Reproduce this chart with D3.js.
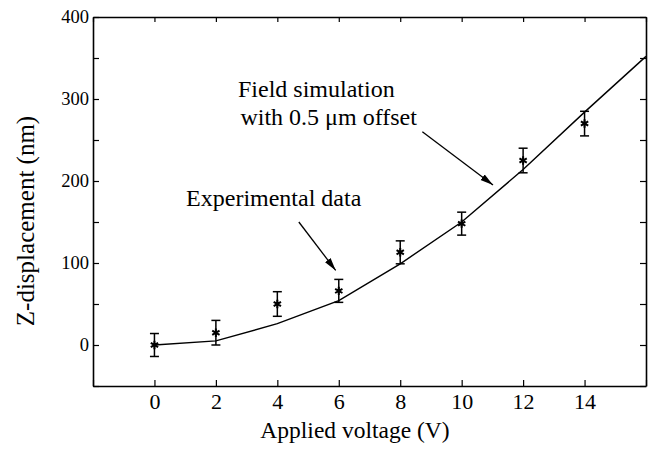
<!DOCTYPE html>
<html lang="en">
<head>
<meta charset="utf-8">
<title>Z-displacement vs applied voltage</title>
<script src="https://cdn.jsdelivr.net/npm/d3@7"></script>
<style>
  body { margin: 0; background: #fff; }
  svg text { font-family: "Liberation Serif", Tinos, "Times New Roman", Times, "DejaVu Serif", "Noto Serif", serif; fill: #000; }
</style>
</head>
<body>
<svg width="648" height="452"></svg>
<script>
// experimental points (V, nm) and their error half-widths
const expVoltage = [0, 2, 4, 6, 8, 10, 12, 14];
const expZ = [0, 15, 50, 66, 113, 148, 225, 270];
const expErr = [14, 15, 15, 14, 14, 14, 15, 15];

// field simulation with 0.5 um offset
const simVoltage = [0, 2, 4, 6, 8, 10, 12, 14, 16];
const simZ = [0, 5, 26, 54, 99, 150, 214, 284, 352];

const xTicks = [-2, 0, 2, 4, 6, 8, 10, 12, 14, 16];
const xTickLabels = ['', '0', '2', '4', '6', '8', '10', '12', '14', ''];
const yTicks = [-50, 0, 50, 100, 150, 200, 250, 300, 350, 400];
const yTickLabels = ['', '0', '', '100', '', '200', '', '300', '', '400'];

// annotations in data units: text and arrows
const notes = [
  { text: 'Field simulation', x: 2.72, y: 303 },
  { text: 'with 0.5 \u03bcm offset', x: 2.8, y: 268 },
  { text: 'Experimental data', x: 1.03, y: 170 }
];
const arrows = [
  { x1: 8.72, y1: 260, x2: 11.02, y2: 195 },
  { x1: 4.7, y1: 150, x2: 5.9, y2: 91 }
];

const serif = '"Liberation Serif", Tinos, "Times New Roman", Times, "DejaVu Serif", "Noto Serif", serif';
const margin = { left: 93, right: 2, top: 17, bottom: 66 };
const svg = d3.select('svg');
const width = +svg.attr('width');
const height = +svg.attr('height');
const innerWidth = width - margin.left - margin.right;
const innerHeight = height - margin.top - margin.bottom;

const g = svg.append('g')
  .attr('transform', `translate(${margin.left}, ${margin.top})`);

const xScale = d3.scaleLinear().domain([-2, 16]).range([0, innerWidth]);
const yScale = d3.scaleLinear().domain([-50, 400]).range([innerHeight, 0]);

svg.append('defs').append('marker')
  .attr('id', 'head')
  .attr('viewBox', '0 0 12 10')
  .attr('refX', 12).attr('refY', 5)
  .attr('markerWidth', 13).attr('markerHeight', 11)
  .attr('markerUnits', 'userSpaceOnUse')
  .attr('orient', 'auto')
  .append('path')
  .attr('d', 'M0,1.8 L12,5 L0,8.2 Z')
  .attr('fill', '#000');

// axes, ticks pointing inward on all four sides
const xLabel = d => xTickLabels[xTicks.indexOf(d)];
const yLabel = d => yTickLabels[yTicks.indexOf(d)];

const axes = [
  g.append('g').attr('transform', `translate(0, ${innerHeight})`)
    .call(d3.axisBottom(xScale).tickValues(xTicks).tickFormat(xLabel)
      .tickSizeInner(-6).tickSizeOuter(0).tickPadding(7)),
  g.append('g')
    .call(d3.axisTop(xScale).tickValues(xTicks).tickFormat('')
      .tickSizeInner(-5).tickSizeOuter(0)),
  g.append('g')
    .call(d3.axisLeft(yScale).tickValues(yTicks).tickFormat(yLabel)
      .tickSizeInner(-6).tickSizeOuter(0).tickPadding(4)),
  g.append('g').attr('transform', `translate(${innerWidth}, 0)`)
    .call(d3.axisRight(yScale).tickValues(yTicks).tickFormat('')
      .tickSizeInner(-6).tickSizeOuter(0))
];
axes.forEach(a => {
  a.attr('font-family', serif);
  a.select('.domain').attr('stroke', '#000').attr('stroke-width', 1.6);
  a.selectAll('.tick line').attr('stroke', '#000').attr('stroke-width', 1.2);
  a.selectAll('.tick text').attr('fill', '#000');
  // drop the unlabeled tick texts
  a.selectAll('.tick text').filter(function () { return this.textContent === ''; }).remove();
});
axes[0].selectAll('.tick text').style('font-size', '22px');
axes[2].selectAll('.tick text').style('font-size', '18.5px');

// simulation curve
const line = d3.line()
  .x(d => xScale(d[0]))
  .y(d => yScale(d[1]));
g.append('path')
  .datum(d3.zip(simVoltage, simZ))
  .attr('d', line)
  .attr('fill', 'none')
  .attr('stroke', '#000')
  .attr('stroke-width', 1.4);

// experimental points with error bars
const pts = expVoltage.map((v, i) => ({ v, z: expZ[i], e: expErr[i] }));
const cap = 4.5;
const bars = g.append('g').attr('stroke', '#000').attr('stroke-width', 1.5);
bars.selectAll('.stem').data(pts).join('line').attr('class', 'stem')
  .attr('x1', d => xScale(d.v)).attr('x2', d => xScale(d.v))
  .attr('y1', d => yScale(d.z - d.e)).attr('y2', d => yScale(d.z + d.e));
bars.selectAll('.capTop').data(pts).join('line').attr('class', 'capTop')
  .attr('x1', d => xScale(d.v) - cap).attr('x2', d => xScale(d.v) + cap)
  .attr('y1', d => yScale(d.z + d.e)).attr('y2', d => yScale(d.z + d.e));
bars.selectAll('.capBot').data(pts).join('line').attr('class', 'capBot')
  .attr('x1', d => xScale(d.v) - cap).attr('x2', d => xScale(d.v) + cap)
  .attr('y1', d => yScale(d.z - d.e)).attr('y2', d => yScale(d.z - d.e));

g.selectAll('.star').data(pts).join('path').attr('class', 'star')
  .attr('transform', d => `translate(${xScale(d.v)}, ${yScale(d.z)})`)
  .attr('d', d3.symbol(d3.symbolAsterisk, 50))
  .attr('fill', 'none')
  .attr('stroke', '#000')
  .attr('stroke-width', 2);

// annotations
g.selectAll('.note').data(notes).join('text').attr('class', 'note')
  .attr('x', d => xScale(d.x))
  .attr('y', d => yScale(d.y))
  .style('font-size', '24px')
  .text(d => d.text);

g.selectAll('.arrow').data(arrows).join('line').attr('class', 'arrow')
  .attr('x1', d => xScale(d.x1)).attr('y1', d => yScale(d.y1))
  .attr('x2', d => xScale(d.x2)).attr('y2', d => yScale(d.y2))
  .attr('stroke', '#000')
  .attr('stroke-width', 1.3)
  .attr('marker-end', 'url(#head)');

// axis titles
svg.append('text')
  .attr('x', 355).attr('y', 438)
  .attr('text-anchor', 'middle')
  .style('font-size', '23.5px')
  .text('Applied voltage (V)');

svg.append('text')
  .attr('transform', 'translate(34, 221) rotate(-90)')
  .attr('text-anchor', 'middle')
  .style('font-size', '25px')
  .text('Z-displacement (nm)');
</script>
</body>
</html>
